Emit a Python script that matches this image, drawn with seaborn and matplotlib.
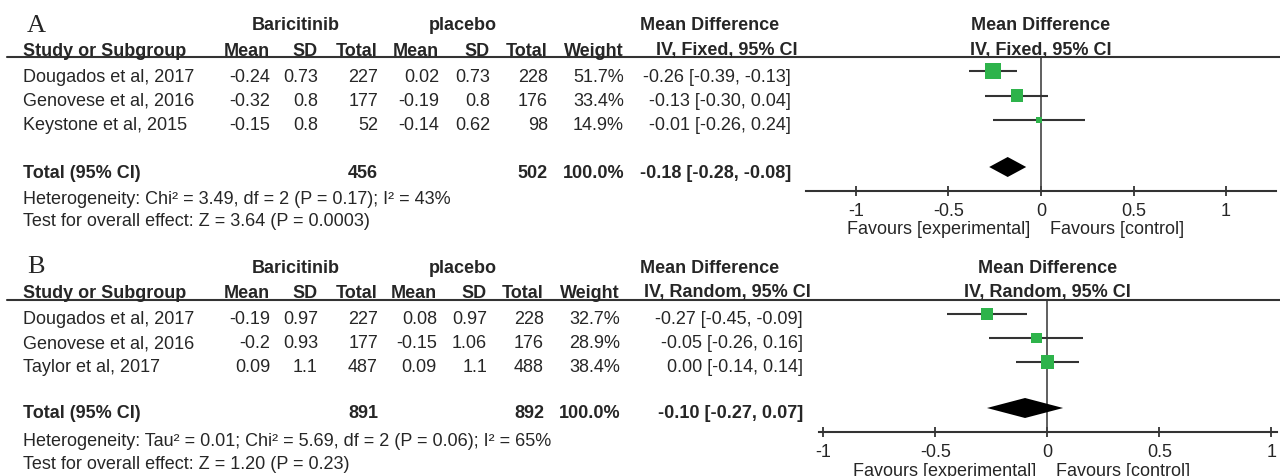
import matplotlib
matplotlib.use("Agg")
import matplotlib.pyplot as plt
from matplotlib.lines import Line2D
import seaborn as sns
import pandas as pd

sns.set_style("white")
plt.rcParams['font.family'] = ['Liberation Sans', 'DejaVu Sans']

W, H = 1280, 477
TXT = "#262626"
GREEN = "#2eb34b"
FS = 13

# ---- panel A data (fixed effect)
studies_a = ["Dougados et al, 2017", "Genovese et al, 2016", "Keystone et al, 2015"]
bari_mean_a = [-0.24, -0.32, -0.15]
bari_sd_a = [0.73, 0.8, 0.8]
bari_n_a = [227, 177, 52]
plac_mean_a = [0.02, -0.19, -0.14]
plac_sd_a = [0.73, 0.8, 0.62]
plac_n_a = [228, 176, 98]
weight_a = [51.7, 33.4, 14.9]
md_a = [-0.26, -0.13, -0.01]
lo_a = [-0.39, -0.30, -0.26]
hi_a = [-0.13, 0.04, 0.24]
total_n_a = [456, 502]
total_md_a = [-0.18, -0.28, -0.08]
het_a = "Heterogeneity: Chi² = 3.49, df = 2 (P = 0.17); I² = 43%"
test_a = "Test for overall effect: Z = 3.64 (P = 0.0003)"

# ---- panel B data (random effects)
studies_b = ["Dougados et al, 2017", "Genovese et al, 2016", "Taylor et al, 2017"]
bari_mean_b = [-0.19, -0.2, 0.09]
bari_sd_b = [0.97, 0.93, 1.1]
bari_n_b = [227, 177, 487]
plac_mean_b = [0.08, -0.15, 0.09]
plac_sd_b = [0.97, 1.06, 1.1]
plac_n_b = [228, 176, 488]
weight_b = [32.7, 28.9, 38.4]
md_b = [-0.27, -0.05, 0.00]
lo_b = [-0.45, -0.26, -0.14]
hi_b = [-0.09, 0.16, 0.14]
total_n_b = [891, 892]
total_md_b = [-0.10, -0.27, 0.07]
het_b = "Heterogeneity: Tau² = 0.01; Chi² = 5.69, df = 2 (P = 0.06); I² = 65%"
test_b = "Test for overall effect: Z = 1.20 (P = 0.23)"

ticks = [-1, -0.5, 0, 0.5, 1]
tick_labels = ["-1", "-0.5", "0", "0.5", "1"]

fig = plt.figure(figsize=(W / 100, H / 100), dpi=100)


def put(x, y, s, ha="left", bold=False, size=FS, **kw):
    fig.text(x / W, 1 - y / H, s, ha=ha, va="center", fontsize=size,
             fontweight="bold" if bold else "normal", color=TXT, **kw)


def md_str(v, lo, hi):
    return f"{v:.2f} [{lo:.2f}, {hi:.2f}]"


def draw_panel(label, method, studies, bm, bs, bn, pm, ps, pn, wt, md, lo, hi,
               tot_n, tot_md, het, test, lay):
    cols = lay["cols"]
    # letter and group headers
    put(27, lay["label_y"], label, size=19, family="Liberation Serif")
    put(296, lay["group_y"], "Baricitinib", ha="center", bold=True)
    put(463, lay["group_y"], "placebo", ha="center", bold=True)
    put(710, lay["group_y"], "Mean Difference", ha="center", bold=True)
    # column headers
    put(23, lay["head_y"], "Study or Subgroup", bold=True)
    for x, s in zip(cols, ["Mean", "SD", "Total", "Mean", "SD", "Total", "Weight"]):
        put(x, lay["head_y"], s, ha="right", bold=True)
    put(727, lay["head_y"], f"IV, {method}, 95% CI", ha="center", bold=True)
    fig.add_artist(Line2D([7 / W, 1.0], [1 - lay["line_y"] / H] * 2,
                          color="#333333", lw=1.5, transform=fig.transFigure))

    # study rows
    rows_y = [lay["row0"] + lay["step"] * i for i in range(len(studies))]
    for i, y in enumerate(rows_y):
        put(23, y, studies[i])
        vals = [f"{bm[i]:g}", f"{bs[i]:g}", f"{bn[i]}", f"{pm[i]:g}",
                f"{ps[i]:g}", f"{pn[i]}", f"{wt[i]:.1f}%"]
        for x, s in zip(cols, vals):
            put(x, y, s, ha="right")
        put(lay["md_right"], y, md_str(md[i], lo[i], hi[i]), ha="right")

    ty = lay["total_y"]
    put(23, ty, "Total (95% CI)", bold=True)
    put(cols[2], ty, f"{tot_n[0]}", ha="right", bold=True)
    put(cols[5], ty, f"{tot_n[1]}", ha="right", bold=True)
    put(cols[6], ty, "100.0%", ha="right", bold=True)
    put(lay["md_right"], ty, md_str(*tot_md), ha="right", bold=True)
    put(23, lay["het_y"], het)
    put(23, lay["test_y"], test)

    # forest plot axes; y data in figure pixel rows
    left, right = lay["ax_x"]
    top, bottom = lay["line_y"], lay["axis_y"]
    ax = fig.add_axes([left / W, 1 - bottom / H, (right - left) / W, (bottom - top) / H])
    ax.patch.set_alpha(0)
    off = 5
    df = pd.DataFrame({"md": md, "y": [y - off for y in rows_y], "weight": wt})
    ax.hlines(df["y"], lo, hi, color="#333333", lw=1.5, zorder=2)
    sns.scatterplot(data=df, x="md", y="y", size="weight", sizes=(3.8, 157.8),
                    size_norm=(10, 60), marker="s", color=GREEN, linewidth=0,
                    legend=False, ax=ax, zorder=3)
    est, dlo, dhi = tot_md
    dy = ty - off
    ax.fill([dlo, est, dhi, est], [dy, dy - 10, dy, dy + 10], color="black", lw=0, zorder=3)
    ax.axvline(0, color="#444444", lw=1.2, zorder=1)

    ax.set_xlim(*lay["xlim"])
    ax.set_ylim(bottom, top)
    ax.set_xlabel("")
    ax.set_ylabel("")
    ax.set_yticks([])
    ax.set_xticks(ticks)
    ax.set_xticklabels(tick_labels, fontsize=FS, color=TXT)
    ax.tick_params(axis="x", direction="inout", length=7, width=1.3,
                   color="#333333", pad=4.5, bottom=True)
    for s in ["top", "left", "right"]:
        ax.spines[s].set_visible(False)
    ax.spines["bottom"].set_color("#333333")
    ax.spines["bottom"].set_linewidth(1.5)

    ax.annotate("Mean Difference", xy=(0, 1), xycoords=("data", "axes fraction"),
                xytext=(0, top - lay["group_y"]), textcoords="offset pixels",
                ha="center", va="center", fontsize=FS, fontweight="bold", color=TXT,
                annotation_clip=False)
    ax.annotate(f"IV, {method}, 95% CI", xy=(0, 1), xycoords=("data", "axes fraction"),
                xytext=(0, top - lay["head_y"]), textcoords="offset pixels",
                ha="center", va="center", fontsize=FS, fontweight="bold", color=TXT,
                annotation_clip=False)
    ax.annotate("Favours [experimental]", xy=(0, 0), xycoords=("data", "axes fraction"),
                xytext=(-11, -lay["fav_dy"]), textcoords="offset pixels",
                ha="right", va="center", fontsize=FS, color=TXT, annotation_clip=False)
    ax.annotate("Favours [control]", xy=(0, 0), xycoords=("data", "axes fraction"),
                xytext=(9, -lay["fav_dy"]), textcoords="offset pixels",
                ha="left", va="center", fontsize=FS, color=TXT, annotation_clip=False)


lay_a = dict(cols=[270, 318, 378, 439, 490, 548, 624], md_right=791,
             label_y=26, group_y=26, head_y=51, line_y=58, row0=77, step=24.5,
             total_y=173, het_y=199, test_y=222, axis_y=192,
             ax_x=(806, 1276), xlim=(-1.27, 1.27), fav_dy=37)
lay_b = dict(cols=[270, 318, 378, 437, 487, 544, 620], md_right=803,
             label_y=267, group_y=269, head_y=293, line_y=301, row0=320, step=24,
             total_y=414, het_y=442, test_y=465, axis_y=433,
             ax_x=(819, 1277), xlim=(-1.02, 1.025), fav_dy=39)

draw_panel("A", "Fixed", studies_a, bari_mean_a, bari_sd_a, bari_n_a, plac_mean_a,
           plac_sd_a, plac_n_a, weight_a, md_a, lo_a, hi_a, total_n_a, total_md_a,
           het_a, test_a, lay_a)
draw_panel("B", "Random", studies_b, bari_mean_b, bari_sd_b, bari_n_b, plac_mean_b,
           plac_sd_b, plac_n_b, weight_b, md_b, lo_b, hi_b, total_n_b, total_md_b,
           het_b, test_b, lay_b)

fig.savefig("out.png", dpi=100, facecolor="white")
